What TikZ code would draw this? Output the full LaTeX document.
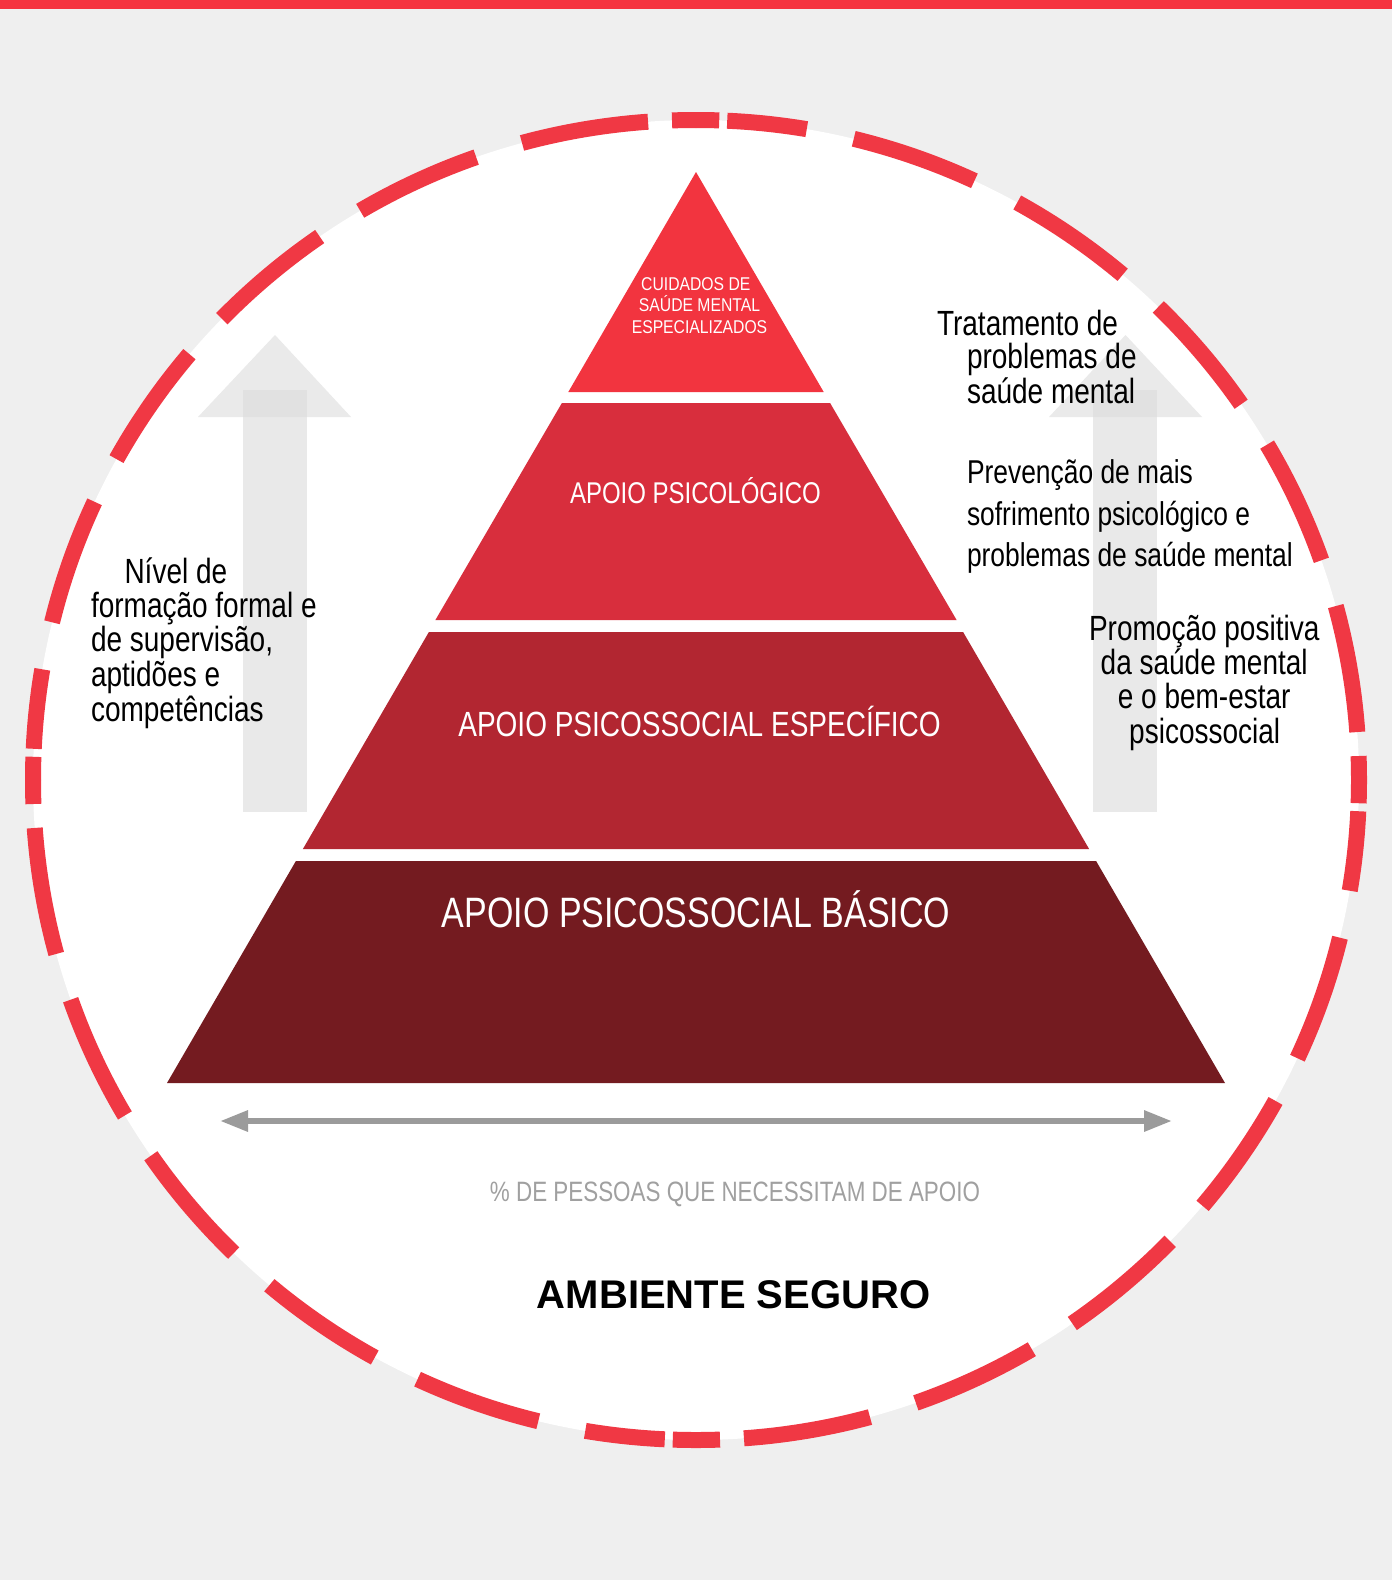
\documentclass[tikz,border=0pt]{standalone}
\usepackage{fontspec}
\setmainfont{Liberation Sans}
\newfontfamily\narrowfont[FakeStretch=0.8]{Liberation Sans}
\newfontfamily\tipfont[FakeStretch=0.85]{Liberation Sans}
\usetikzlibrary{arrows.meta}
\definecolor{bggray}{HTML}{EFEFEF}
\definecolor{topred}{HTML}{F5333F}
\definecolor{ringred}{HTML}{F03844}
\definecolor{tierA}{HTML}{F2343F}
\definecolor{tierB}{HTML}{D82E3D}
\definecolor{tierC}{HTML}{B22631}
\definecolor{tierD}{HTML}{741B20}
\definecolor{arrowgray}{HTML}{9B9B9B}
\definecolor{labelgray}{HTML}{A0A0A0}
\definecolor{headgray}{HTML}{EAEAEA}
\definecolor{shaftgray}{HTML}{DCDCDC}
\begin{document}
\begin{tikzpicture}[x=1pt,y=-1pt,
  ring/.style={draw=ringred, line width=16pt, line cap=butt,
    dash pattern=on 24pt off 24pt on 128pt off 48pt on 128pt off 48pt on 128pt off 48pt on 128pt off 48pt on 128pt off 48pt on 80pt off 8pt on 24pt off 300pt},
  txt/.style={inner sep=0pt, outer sep=0pt},
  side/.style={txt, font=\narrowfont\fontsize{35pt}{35pt}\selectfont, text=black},
  sidesmall/.style={txt, font=\narrowfont\fontsize{33pt}{33pt}\selectfont, text=black},
  tierlabel/.style={txt, text=white},
  widearrow/.style={draw=arrowgray, line width=6pt, {Triangle[length=28pt,width=20pt]}-{Triangle[length=28pt,width=20pt]}},
  uphead/.style={fill=headgray},
  upshaft/.style={fill=shaftgray, fill opacity=0.62}
]
\useasboundingbox (0,0) rectangle (1392,1580);
% background
\fill[bggray] (0,0) rectangle (1392,1580);
\fill[topred] (0,0) rectangle (1392,9);
% white disk
\fill[white] (696,780) ellipse [x radius=663, y radius=660];
% dashed ring, four quarters
\draw[ring] (696,120) arc[start angle=270, end angle=180, x radius=663, y radius=660];
\draw[ring] (33,780) arc[start angle=180, end angle=90, x radius=663, y radius=660];
\draw[ring] (696,1440) arc[start angle=90, end angle=0, x radius=663, y radius=660];
\draw[ring] (1359,780) arc[start angle=0, end angle=-90, x radius=663, y radius=660];
% grey up arrows
\fill[uphead] (198,417) -- (275,335) -- (351,417) -- cycle;
\fill[upshaft] (243,390) rectangle (307,812);
\fill[uphead] (1049,417) -- (1125.5,335) -- (1202,417) -- cycle;
\fill[upshaft] (1093,390) rectangle (1157,812);
% pyramid
\fill[tierA] (696,172) -- (823.7,392) -- (568.3,392) -- cycle;
\fill[tierB] (561.9,403) -- (830.1,403) -- (956.6,620) -- (435.4,620) -- cycle;
\fill[tierC] (428.9,632) -- (963.1,632) -- (1089.1,849) -- (302.9,849) -- cycle;
\fill[tierD] (295.9,861) -- (1096.1,861) -- (1225,1083) -- (167,1083) -- cycle;
% tier labels
\node[tierlabel, font=\tipfont\fontsize{18.5pt}{18.5pt}\selectfont, anchor=base] (tA1) at (695.8,290) {CUIDADOS DE};
\node[tierlabel, font=\tipfont\fontsize{18.5pt}{18.5pt}\selectfont, anchor=base] (tA2) at (699.5,311.7) {SAÚDE MENTAL};
\node[tierlabel, font=\tipfont\fontsize{18.5pt}{18.5pt}\selectfont, anchor=base] (tA3) at (699.5,333.3) {ESPECIALIZADOS};
\node[tierlabel, font=\narrowfont\fontsize{30pt}{30pt}\selectfont, anchor=base] (tB) at (695.4,503) {APOIO PSICOLÓGICO};
\node[tierlabel, font=\narrowfont\fontsize{35pt}{35pt}\selectfont, anchor=base] (tC) at (699.5,736.7) {APOIO PSICOSSOCIAL ESPECÍFICO};
\node[tierlabel, font=\narrowfont\fontsize{42.5pt}{42.5pt}\selectfont, anchor=base] (tD) at (696,927.3) {APOIO PSICOSSOCIAL BÁSICO};
% left text
\node[side, anchor=base west] (l1) at (124.5,583.3) {Nível de};
\node[side, anchor=base west] (l2) at (91,617) {formação formal e};
\node[side, anchor=base west] (l3) at (91,651.7) {de supervisão,};
\node[side, anchor=base west] (l4) at (91,686.5) {aptidões e};
\node[side, anchor=base west] (l5) at (91,721.5) {competências};
% right text: treatment
\node[side, anchor=base west] (r1) at (937,335) {Tratamento de};
\node[side, anchor=base west] (r2) at (967,368.5) {problemas de};
\node[side, anchor=base west] (r3) at (967,403.3) {saúde mental};
% right text: prevention
\node[sidesmall, anchor=base west] (p1) at (967,483.3) {Prevenção de mais};
\node[sidesmall, anchor=base west] (p2) at (967,525) {sofrimento psicológico e};
\node[sidesmall, anchor=base west] (p3) at (967,566.7) {problemas de saúde mental};
% right text: promotion
\node[side, anchor=base] (m1) at (1204.2,640) {Promoção positiva};
\node[side, anchor=base] (m2) at (1204.2,674) {da saúde mental};
\node[side, anchor=base] (m3) at (1204.2,708.3) {e o bem-estar};
\node[side, anchor=base] (m4) at (1204.7,743.3) {psicossocial};
% width arrow
\coordinate (wL) at (220,1121);
\coordinate (wR) at (1172,1121);
\draw[widearrow] (wL) -- (wR);
\node[txt, font=\narrowfont\fontsize{28pt}{28pt}\selectfont, text=labelgray, anchor=base] (pct) at (735,1201.7) {\% DE PESSOAS QUE NECESSITAM DE APOIO};
\node[txt, font=\bfseries\fontsize{40pt}{40pt}\selectfont, text=black, anchor=base] (amb) at (733.6,1308.3) {AMBIENTE SEGURO};
\end{tikzpicture}
\end{document}
